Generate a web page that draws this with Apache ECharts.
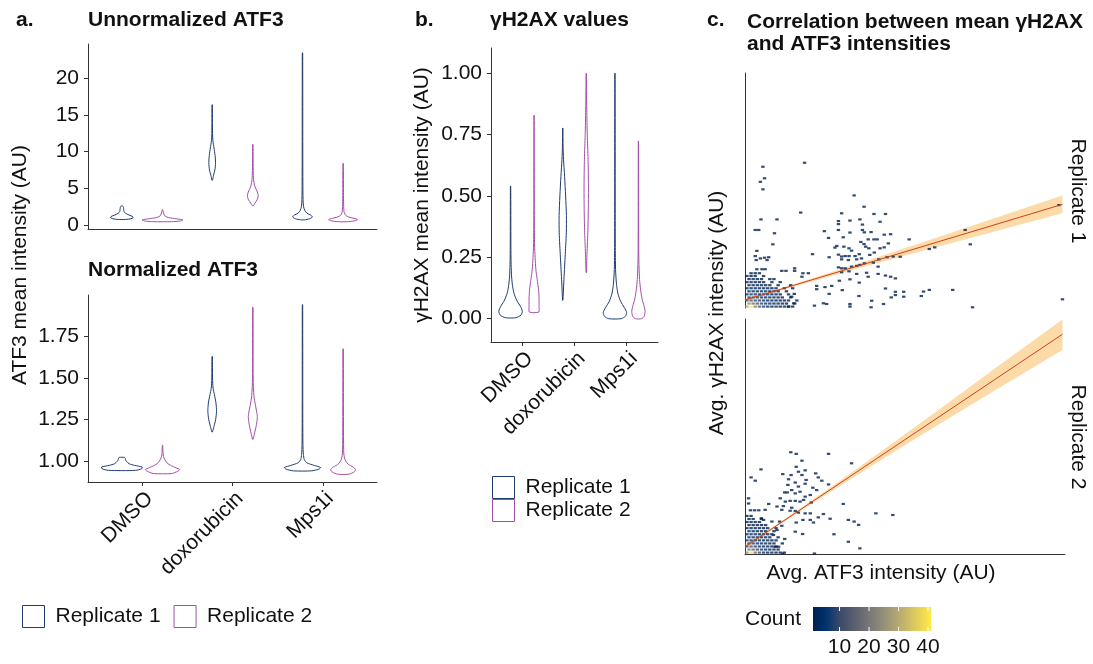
<!DOCTYPE html>
<html><head><meta charset="utf-8">
<script src="https://cdn.jsdelivr.net/npm/echarts@6/dist/echarts.min.js"></script>
<style>html,body{margin:0;padding:0;background:#fff}#c{width:1093px;height:664px}</style>
</head><body><div id="c"></div>
<script>
// ---------- data ----------
const categories = ['DMSO', 'doxorubicin', 'Mps1i'];
const replicates = ['Replicate 1', 'Replicate 2'];

// violin profiles: [value, half-width in category units], bottom to top
const rawRep1 = [
  [[0.75,0.04],[0.85,0.1],[1.0,0.125],[1.15,0.12],[1.35,0.08],[1.6,0.04],[1.8,0.025],[2.1,0.02],[2.4,0.017],[2.55,0.012],[2.6,0.006]],
  [[6.1,0.003],[6.8,0.015],[7.5,0.03],[8.5,0.037],[9.5,0.032],[10.5,0.02],[11.5,0.008],[12.5,0.004],[14,0.003],[16.4,0.002]],
  [[0.7,0.02],[0.85,0.08],[1.1,0.11],[1.35,0.09],[1.6,0.05],[2.0,0.025],[2.5,0.012],[3.5,0.006],[6,0.004],[12,0.003],[23.5,0.002]]
];
const rawRep2 = [
  [[0.45,0.1],[0.55,0.2],[0.7,0.225],[0.85,0.15],[1.0,0.07],[1.2,0.03],[1.5,0.015],[1.8,0.008],[2.1,0.002]],
  [[2.6,0.003],[3.0,0.025],[3.5,0.05],[4.0,0.06],[4.5,0.05],[5.2,0.025],[6,0.01],[7,0.005],[9,0.003],[11,0.002]],
  [[0.45,0.06],[0.6,0.14],[0.75,0.16],[0.9,0.12],[1.1,0.06],[1.3,0.03],[1.7,0.012],[2.5,0.006],[4,0.004],[8.4,0.002]]
];
const normRep1 = [
  [[0.945,0.15],[0.955,0.22],[0.965,0.225],[0.975,0.14],[0.985,0.08],[1.0,0.05],[1.01,0.04],[1.018,0.037],[1.023,0.03]],
  [[1.176,0.003],[1.21,0.02],[1.25,0.038],[1.3,0.048],[1.35,0.042],[1.4,0.025],[1.44,0.01],[1.5,0.004],[1.63,0.002]],
  [[0.942,0.1],[0.952,0.18],[0.962,0.2],[0.975,0.13],[0.99,0.05],[1.01,0.02],[1.04,0.01],[1.1,0.005],[1.3,0.003],[1.942,0.002]]
];
const normRep2 = [
  [[0.926,0.1],[0.94,0.17],[0.95,0.19],[0.96,0.15],[0.975,0.09],[0.99,0.05],[1.01,0.025],[1.03,0.01],[1.06,0.005],[1.096,0.002]],
  [[1.132,0.003],[1.17,0.02],[1.22,0.04],[1.27,0.05],[1.32,0.035],[1.38,0.015],[1.45,0.006],[1.55,0.003],[1.926,0.002]],
  [[0.922,0.06],[0.935,0.12],[0.95,0.138],[0.965,0.11],[0.98,0.06],[1.0,0.03],[1.02,0.015],[1.05,0.007],[1.15,0.004],[1.676,0.002]]
];
const h2axRep1 = [
  [[0.004,0.1],[0.015,0.2],[0.03,0.225],[0.05,0.19],[0.07,0.13],[0.1,0.07],[0.13,0.04],[0.17,0.02],[0.22,0.01],[0.3,0.006],[0.54,0.003]],
  [[0.075,0.003],[0.15,0.02],[0.25,0.045],[0.35,0.068],[0.42,0.07],[0.5,0.055],[0.58,0.035],[0.65,0.015],[0.7,0.006],[0.777,0.002]],
  [[0.0,0.12],[0.01,0.2],[0.025,0.225],[0.045,0.18],[0.07,0.11],[0.1,0.06],[0.14,0.03],[0.2,0.012],[0.3,0.006],[0.5,0.004],[1.0,0.002]]
];
const h2axRep2 = [
  [[0.027,0.09],[0.05,0.095],[0.08,0.096],[0.12,0.085],[0.16,0.06],[0.2,0.035],[0.25,0.02],[0.3,0.01],[0.4,0.005],[0.829,0.002]],
  [[0.1875,0.002],[0.25,0.012],[0.35,0.03],[0.45,0.04],[0.55,0.042],[0.65,0.035],[0.75,0.02],[0.85,0.01],[0.93,0.005],[1.0,0.002]],
  [[0.0,0.06],[0.01,0.11],[0.03,0.128],[0.05,0.11],[0.08,0.07],[0.12,0.04],[0.16,0.022],[0.22,0.01],[0.3,0.005],[0.724,0.002]]
];

const rawTicks = [0, 5, 10, 15, 20];
const normTicks = [1.00, 1.25, 1.50, 1.75];
const h2axTicks = [0.00, 0.25, 0.50, 0.75, 1.00];
const countTicks = [10, 20, 30, 40];

// binned counts [ATF3, γH2AX, count] (arbitrary AU, 0-100)
const rep1Cells = [
  [0.6,0.6,30],[1.9,0.6,41],[3.2,0.6,22],[4.5,0.6,13],[5.8,0.6,8],[7.1,0.6,5],[8.4,0.6,4],[9.7,0.6,3],[11.0,0.6,2],[12.3,0.6,2],[13.6,0.6,1],[14.9,0.6,1],
  [1.25,1.9,24],[2.55,1.9,18],[3.85,1.9,12],[5.15,1.9,9],[6.45,1.9,6],[7.75,1.9,4],[9.05,1.9,3],[10.35,1.9,2],[11.65,1.9,2],[12.95,1.9,1],[15.55,1.9,1],
  [0.6,3.2,12],[1.9,3.2,13],[3.2,3.2,10],[4.5,3.2,8],[5.8,3.2,6],[7.1,3.2,4],[8.4,3.2,3],[9.7,3.2,2],[11.0,3.2,2],[12.3,3.2,1],[13.6,3.2,1],[16.2,3.2,1],
  [1.25,4.5,8],[2.55,4.5,9],[3.85,4.5,8],[5.15,4.5,6],[6.45,4.5,4],[7.75,4.5,3],[9.05,4.5,2],[10.35,4.5,2],[11.65,4.5,1],[14.25,4.5,1],
  [0.6,5.8,5],[1.9,5.8,7],[3.2,5.8,6],[4.5,5.8,5],[5.8,5.8,4],[7.1,5.8,3],[8.4,5.8,2],[9.7,5.8,2],[11.0,5.8,1],[13.6,5.8,1],
  [1.25,7.1,4],[2.55,7.1,5],[3.85,7.1,4],[5.15,7.1,4],[6.45,7.1,3],[7.75,7.1,2],[9.05,7.1,2],[10.35,7.1,1],[12.95,7.1,1],
  [0.6,8.4,3],[1.9,8.4,4],[3.2,8.4,3],[4.5,8.4,3],[5.8,8.4,2],[7.1,8.4,2],[8.4,8.4,1],[9.7,8.4,1],[12.3,8.4,1],[14.9,8.4,1],
  [1.25,9.7,3],[2.55,9.7,3],[3.85,9.7,2],[5.15,9.7,2],[6.45,9.7,1],[7.75,9.7,1],[10.35,9.7,1],[14.25,9.7,1],
  [0.6,11.0,2],[1.9,11.0,2],[3.2,11.0,2],[4.5,11.0,1],[5.8,11.0,1],[8.4,11.0,1],[11.0,11.0,1],
  [1.25,12.3,1],[2.55,12.3,2],[3.85,12.3,1],[5.15,12.3,1],[7.75,12.3,1],[9.05,12.3,1],
  [0.6,13.6,1],[1.9,13.6,1],[3.2,13.6,1],[5.8,13.6,1],
  [1.9,14.8,1],[3.2,14.8,1],[4.5,14.8,1],
  [5.6,60.1,1],[18.6,61.8,1],[6.1,55.2,1],[4.8,53.7,1],[5.6,50.5,1],[17.4,40.6,1],[5.0,37.7,1],[10.0,37.7,1],[34.1,47.9,1],[37.2,43.1,1],
  [40.3,40.0,1],[43.9,40.0,1],[30.2,40.3,1],[29.2,37.0,1],[29.2,35.7,1],[32.8,37.2,1],[35.9,37.7,1],[42.2,36.7,1],[36.7,35.5,1],[3.2,33.2,1],
  [4.3,33.2,1],[9.2,31.8,1],[24.8,32.7,1],[29.2,33.2,1],[32.8,32.1,1],[36.7,33.2,1],[37.3,32.2,1],[39.4,32.3,1],[43.5,31.2,1],[45.5,31.4,1],
  [26.1,29.8,1],[30.7,30.1,1],[38.5,29.2,1],[40.3,29.2,1],[41.3,29.2,1],[36.2,28.1,1],[37.2,27.2,1],[44.8,27.5,1],[51.3,29.2,1],[8.7,27.1,1],
  [28.7,26.4,1],[28.1,25.7,1],[30.9,26.1,1],[32.5,25.4,1],[37.7,26.1,1],[38.7,25.4,1],[42.2,25.4,1],[43.5,25.8,1],[3.7,24.3,1],[3.2,22.1,1],
  [4.8,21.1,1],[6.1,21.4,1],[7.4,21.6,1],[3.5,20.4,1],[6.9,20.4,1],[21.1,22.9,1],[29.2,22.7,1],[33.3,24.4,1],[26.3,21.6,1],[30.2,21.9,1],
  [31.3,22.1,1],[32.5,22.1,1],[34.4,22.1,1],[35.7,22.9,1],[39.0,22.6,1],[40.4,23.6,1],[30.2,20.7,1],[32.3,20.4,1],[34.9,20.7,1],[36.4,21.1,1],
  [41.8,20.7,1],[44.4,21.6,1],[46.3,21.9,1],[48.5,21.8,1],[3.7,16.5,1],[5.3,16.5,1],[6.3,16.5,1],[11.5,15.8,1],[12.8,15.8,1],[15.5,16.9,1],
  [15.5,15.8,1],[29.2,17.3,1],[30.2,16.9,1],[31.3,16.9,1],[33.3,17.6,1],[34.9,17.9,1],[35.9,18.3,1],[37.3,19.0,1],[40.1,19.3,1],[41.6,17.6,1],
  [30.2,15.2,1],[32.5,15.6,1],[34.9,14.5,1],[38.0,15.0,1],[38.5,13.3,1],[41.6,14.5,1],[43.9,13.8,1],[45.5,13.3,1],[47.0,12.6,1],[18.1,14.8,1],
  [19.8,14.8,1],[17.8,13.3,1],[29.5,11.6,1],[32.8,12.2,1],[35.7,10.8,1],[27.1,9.4,1],[25.0,8.9,1],[22.4,9.4,1],[22.4,8.0,1],[26.3,6.0,1],
  [30.4,7.6,1],[35.6,5.1,1],[43.9,8.3,1],[47.0,6.9,1],[47.0,5.5,1],[49.6,6.9,1],[49.6,4.8,1],[39.6,3.1,1],[43.3,1.7,1],[32.8,1.7,1],
  [32.8,0.6,1],[39.4,0.3,1],[21.7,1.0,1],[24.5,2.0,1],[25.5,1.7,1],[14.6,4.8,1],[15.4,6.0,1],[15.2,2.0,1],[13.6,0.6,1],[45.7,4.5,1],
  [68.8,33.2,1],[70.4,27.1,1],[57.6,25.1,1],[59.3,25.8,1],[98.1,43.8,1],[99.2,3.7,1],[71.1,0.3,1],[64.9,7.7,1],[57.6,7.7,1],[55.8,7.0,1],[55.1,5.1,1]
];
const rep2Cells = [
  [0.6,0.6,24],[1.9,0.6,38],[3.2,0.6,18],[4.5,0.6,10],[5.8,0.6,6],[7.1,0.6,4],[8.4,0.6,3],[9.7,0.6,2],[11.0,0.6,1],[12.3,0.6,1],
  [1.25,1.9,20],[2.55,1.9,16],[3.85,1.9,10],[5.15,1.9,7],[6.45,1.9,5],[7.75,1.9,3],[9.05,1.9,2],[10.35,1.9,1],
  [0.6,3.2,10],[1.9,3.2,11],[3.2,3.2,9],[4.5,3.2,6],[5.8,3.2,4],[7.1,3.2,3],[8.4,3.2,2],[9.7,3.2,1],
  [1.25,4.5,8],[2.55,4.5,8],[3.85,4.5,6],[5.15,4.5,4],[6.45,4.5,3],[7.75,4.5,2],[9.05,4.5,1],[11.65,4.5,1],
  [0.6,5.8,6],[1.9,5.8,6],[3.2,5.8,5],[4.5,5.8,4],[5.8,5.8,3],[7.1,5.8,2],[8.4,5.8,1],[9.7,5.8,1],
  [1.25,7.1,5],[2.55,7.1,5],[3.85,7.1,4],[5.15,7.1,3],[6.45,7.1,2],[7.75,7.1,1],[10.35,7.1,1],
  [0.6,8.4,4],[1.9,8.4,4],[3.2,8.4,3],[4.5,8.4,2],[5.8,8.4,2],[7.1,8.4,1],[8.4,8.4,1],
  [1.25,9.7,3],[2.55,9.7,3],[3.85,9.7,2],[5.15,9.7,2],[6.45,9.7,1],[9.05,9.7,1],
  [0.6,11.0,2],[1.9,11.0,2],[3.2,11.0,2],[4.5,11.0,1],[5.8,11.0,1],[7.1,11.0,1],[9.7,11.0,1],
  [1.25,12.3,2],[2.55,12.3,1],[3.85,12.3,1],[5.15,12.3,1],[6.45,12.3,1],
  [0.6,13.6,1],[1.9,13.6,1],[3.2,13.6,1],[4.5,13.6,1],
  [1.25,14.9,1],[2.55,14.9,1],[5.15,14.9,1],
  [0.6,16.2,1],[1.9,16.2,1],
  [14.3,43.3,1],[16.0,42.6,1],[26.1,42.6,1],[17.8,39.7,1],[33.3,38.6,1],[5.0,36.0,1],[16.0,37.1,1],[16.7,35.0,1],[18.8,35.6,1],[11.8,34.0,1],
  [14.4,33.6,1],[17.8,33.6,1],[22.1,34.3,1],[1.9,32.6,1],[3.2,31.2,1],[13.6,31.8,1],[19.1,31.5,1],[22.9,32.6,1],[24.0,31.2,1],[13.4,29.4,1],
  [15.7,30.4,1],[16.7,28.7,1],[18.8,29.9,1],[21.2,28.2,1],[26.1,29.6,1],[12.4,26.2,1],[13.2,26.2,1],[14.6,27.2,1],[15.7,25.8,1],[17.2,26.5,1],
  [18.8,24.4,1],[20.4,25.1,1],[22.4,27.2,1],[11.0,23.7,1],[12.6,22.3,1],[14.1,22.6,1],[15.7,22.6,1],[17.2,22.3,1],[18.3,23.0,1],[1.1,23.7,1],
  [1.1,21.5,1],[7.4,21.3,1],[10.0,20.2,1],[12.0,20.4,1],[14.6,19.7,1],[20.7,21.9,1],[30.7,21.3,1],[1.7,18.6,1],[3.0,18.6,1],[4.3,18.6,1],
  [6.3,18.8,1],[11.5,18.8,1],[14.1,18.4,2],[15.7,18.3,2],[16.7,17.6,1],[18.8,17.3,1],[20.4,17.3,1],[24.5,17.0,1],[26.6,15.0,1],[22.9,15.6,1],
  [32.3,14.5,1],[34.1,13.8,1],[35.5,12.4,1],[40.9,17.3,1],[46.2,16.6,1],[16.0,13.4,1],[18.1,14.5,1],[20.4,14.5,1],[21.4,13.4,1],[8.4,13.8,1],
  [10.8,13.8,1],[5.1,15.2,1],[5.8,14.5,1],[11.5,12.0,1],[10.0,10.2,1],[8.9,8.1,1],[15.7,9.5,1],[18.0,8.5,1],[12.4,6.4,1],[27.8,8.4,1],
  [32.3,5.2,1],[35.9,2.4,1],[21.7,0.2,1],[9.4,3.1,1],[10.5,3.1,1],[11.8,0.2,1]
];

// linear fits and confidence bands: [x, lower, upper]
const rep1Fit = [[0, 3.4], [99.2, 44.1]];
const rep2Fit = [[0, 3.1], [99.2, 93.5]];
const rep1Band = [[0,2.9,3.9],[10,7.1,7.9],[20,11.0,12.2],[40,18.6,21.0],[60,26.0,30.0],[80,33.3,39.1],[99.2,40.3,47.9]];
const rep2Band = [[0,2.3,3.9],[10,11.7,12.7],[20,20.6,22.0],[30,29.3,31.5],[45,42.1,46.1],[60,54.7,60.9],[80,71.2,80.8],[99.2,86.8,99.8]];

// ---------- styling ----------
const C1 = '#1f3d6d', C2 = '#a34ea9';
const FF = '"Liberation Sans", Arial, sans-serif';
const TXT = '#111';
const AX = '#333';
const cividis = ['#00204D','#00336F','#39486B','#575C6D','#707173','#8A8779','#A69D75','#C4B56C','#E4CF5B','#FFEA46'];
const countMin = 1, countMax = 41;

function violin(name, gi, profiles, offset, color) {
  return {
    type: 'custom', name, xAxisIndex: gi, yAxisIndex: gi, silent: true,
    data: profiles.map((p, i) => [i + 1 + offset, p[0][0], i]),
    encode: { x: 0, y: 1 },
    renderItem: (params, api) => {
      const prof = profiles[api.value(2)];
      const xc = api.value(0);
      const pts = [];
      prof.forEach(([y, w]) => pts.push(api.coord([xc + w, y])));
      for (let k = prof.length - 1; k >= 0; k--) pts.push(api.coord([xc - prof[k][1], prof[k][0]]));
      return { type: 'polygon', shape: { points: pts, smooth: 0.25 },
               style: { fill: 'rgba(255,255,255,0)', stroke: color, lineWidth: 1 } };
    }
  };
}
function band(gi, rib) {
  return {
    type: 'custom', xAxisIndex: gi, yAxisIndex: gi, silent: true,
    data: rib, encode: { x: 0, y: 1 },
    renderItem: (params, api) => {
      if (params.dataIndex !== 0) return null;
      const up = rib.map(d => api.coord([d[0], d[2]]));
      const lo = rib.slice().reverse().map(d => api.coord([d[0], d[1]]));
      return { type: 'polygon', shape: { points: up.concat(lo) }, style: { fill: 'rgba(249,176,64,0.45)' } };
    }
  };
}
function catX(gi, show) {
  return {
    type: 'value', gridIndex: gi, min: 0.4, max: 3.6,
    axisLine: { show: true, onZero: false, lineStyle: { color: AX, width: 1 } },
    axisTick: { show: show, customValues: [1, 2, 3], length: 4, lineStyle: { color: AX } },
    axisLabel: { show: show, customValues: [1, 2, 3], rotate: 45, margin: 6, verticalAlign: 'top',
                 formatter: v => categories[Math.round(v) - 1], fontSize: 21, color: TXT, fontFamily: FF },
    splitLine: { show: false }
  };
}
function valY(gi, min, max, ticks, dec) {
  return {
    type: 'value', gridIndex: gi, min, max,
    axisLine: { show: true, onZero: false, lineStyle: { color: AX, width: 1 } },
    axisTick: { show: true, customValues: ticks, length: 4, lineStyle: { color: AX } },
    axisLabel: { show: true, customValues: ticks, margin: 9, formatter: v => v.toFixed(dec),
                 fontSize: 21, color: TXT, fontFamily: FF },
    splitLine: { show: false }
  };
}
function plainAxis(gi, showLine) {
  return {
    type: 'value', gridIndex: gi, min: 0, max: 100,
    axisLine: { show: showLine, onZero: false, lineStyle: { color: AX, width: 1 } },
    axisTick: { show: false }, axisLabel: { show: false }, splitLine: { show: false }
  };
}
function txt(text, x, y, opt) {
  opt = opt || {};
  return {
    type: 'text', x, y, rotation: opt.rot || 0, silent: true,
    style: { text, fill: TXT, font: (opt.bold ? 'bold ' : '') + '21px ' + FF,
             textAlign: opt.align || 'left', textVerticalAlign: 'middle' }
  };
}

// colour bar
const barX = 813, barY = 607, barW = 118, barH = 24;
const barGraphics = [{
  type: 'rect', shape: { x: barX, y: barY, width: barW, height: barH }, silent: true,
  style: { fill: new echarts.graphic.LinearGradient(0, 0, 1, 0,
    cividis.map((c, i) => ({ offset: i / (cividis.length - 1), color: c }))) }
}];
countTicks.forEach(t => {
  const px = barX + (t - countMin) / (countMax - countMin) * barW;
  barGraphics.push({ type: 'line', silent: true, shape: { x1: px, y1: barY, x2: px, y2: barY + 4 }, style: { stroke: '#fff', lineWidth: 1 } });
  barGraphics.push({ type: 'line', silent: true, shape: { x1: px, y1: barY + barH - 4, x2: px, y2: barY + barH }, style: { stroke: '#fff', lineWidth: 1 } });
  barGraphics.push(txt(String(t), px, 647, { align: 'center' }));
});

const legendItems = [
  { name: replicates[0], icon: 'rect', itemStyle: { color: '#fff', borderColor: C1, borderWidth: 1 } },
  { name: replicates[1], icon: 'rect', itemStyle: { color: '#fff', borderColor: C2, borderWidth: 1 } }
];

const option = {
  animation: false,
  backgroundColor: '#fff',
  grid: [
    { left: 88, top: 44, width: 289, height: 185 },
    { left: 88, top: 295, width: 289, height: 187 },
    { left: 491, top: 48, width: 167, height: 294 },
    { left: 745, top: 73, width: 320, height: 235 },
    { left: 745, top: 319, width: 320, height: 235 }
  ],
  xAxis: [catX(0, false), catX(1, true), catX(2, true), plainAxis(3, false), plainAxis(4, true)],
  yAxis: [
    valY(0, -0.55, 24.7, rawTicks, 0),
    valY(1, 0.875, 2.0, normTicks, 2),
    valY(2, -0.095, 1.103, h2axTicks, 2),
    plainAxis(3, true), plainAxis(4, true)
  ],
  legend: [
    { data: legendItems, orient: 'horizontal', left: 22, top: 605, padding: 0, itemWidth: 22, itemHeight: 22, itemGap: 13,
      selectedMode: false, textStyle: { fontSize: 21, color: TXT, fontFamily: FF, padding: [0, 0, 0, 6] } },
    { data: legendItems, orient: 'vertical', left: 492, top: 476, padding: 0, itemWidth: 22, itemHeight: 22, itemGap: 0,
      selectedMode: false, textStyle: { fontSize: 21, color: TXT, fontFamily: FF, padding: [0, 0, 0, 6] } }
  ],
  visualMap: {
    type: 'continuous', show: false, min: countMin, max: countMax, dimension: 2,
    seriesIndex: [6, 7], inRange: { color: cividis }
  },
  series: [
    violin(replicates[0], 0, rawRep1, -0.225, C1),
    violin(replicates[1], 0, rawRep2, 0.225, C2),
    violin(replicates[0], 1, normRep1, -0.225, C1),
    violin(replicates[1], 1, normRep2, 0.225, C2),
    violin(replicates[0], 2, h2axRep1, -0.225, C1),
    violin(replicates[1], 2, h2axRep2, 0.225, C2),
    { type: 'scatter', name: 'cells1', xAxisIndex: 3, yAxisIndex: 3, data: rep1Cells, symbol: 'rect', symbolSize: [3.4, 2.2], silent: true },
    { type: 'scatter', name: 'cells2', xAxisIndex: 4, yAxisIndex: 4, data: rep2Cells, symbol: 'rect', symbolSize: [3.4, 2.2], silent: true },
    band(3, rep1Band),
    band(4, rep2Band),
    { type: 'line', xAxisIndex: 3, yAxisIndex: 3, data: rep1Fit, showSymbol: false, silent: true, lineStyle: { color: '#d23f1b', width: 1 } },
    { type: 'line', xAxisIndex: 4, yAxisIndex: 4, data: rep2Fit, showSymbol: false, silent: true, lineStyle: { color: '#d23f1b', width: 1 } }
  ],
  graphic: [
    txt('a.', 16, 20, { bold: true }),
    txt('Unnormalized ATF3', 88, 20, { bold: true }),
    txt('Normalized ATF3', 88, 270, { bold: true }),
    txt('b.', 415, 20, { bold: true }),
    txt('γH2AX values', 490, 20, { bold: true }),
    txt('c.', 707, 20, { bold: true }),
    txt('Correlation between mean γH2AX', 747, 22, { bold: true }),
    txt('and ATF3 intensities', 747, 44, { bold: true }),
    txt('ATF3 mean intensity (AU)', 20, 265, { align: 'center', rot: Math.PI / 2 }),
    txt('γH2AX mean intensity (AU)', 422, 195, { align: 'center', rot: Math.PI / 2 }),
    txt('Avg. γH2AX intensity (AU)', 717, 313, { align: 'center', rot: Math.PI / 2 }),
    txt('Avg. ATF3 intensity (AU)', 881, 573, { align: 'center' }),
    txt('Replicate 1', 1078, 191, { align: 'center', rot: -Math.PI / 2 }),
    txt('Replicate 2', 1078, 437, { align: 'center', rot: -Math.PI / 2 }),
    txt('Count', 745, 619)
  ].concat(barGraphics)
};
const chart = echarts.init(document.getElementById('c'));
chart.setOption(option);
</script>
</body></html>
